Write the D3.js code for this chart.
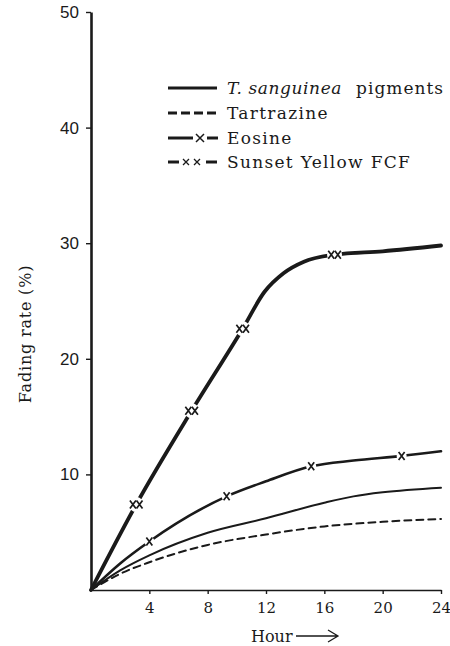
<!DOCTYPE html>
<html>
<head>
<meta charset="utf-8">
<script src="https://cdn.jsdelivr.net/npm/d3@7"></script>
<style>
  body { margin: 0; background: #fff; }
  svg text { fill: #1a1a1a; }
</style>
</head>
<body>
<div id="chart"></div>
<script>
// hours and fading rate (%)
var sunsetHours = [0, 3.1, 6.9, 10.4, 11.9, 13.2, 14.6, 16.7, 20, 24];
var sunsetRates = [0, 7.4, 15.5, 22.6, 25.8, 27.4, 28.4, 29.0, 29.3, 29.8];
var eosineHours = [0, 2, 4, 9.3, 12, 15.1, 18, 21.3, 24];
var eosineRates = [0, 2.3, 4.2, 8.1, 9.4, 10.7, 11.2, 11.6, 12.0];
var sanguineaHours = [0, 2, 4, 8, 12, 16, 18, 20, 24];
var sanguineaRates = [0, 1.7, 3.0, 4.95, 6.2, 7.55, 8.1, 8.45, 8.85];
var tartrazineHours = [0, 2, 4, 8, 12, 16, 20, 24];
var tartrazineRates = [0, 1.4, 2.4, 3.9, 4.8, 5.5, 5.9, 6.15];

// where the x marks sit on the two marked curves
var sunsetMarkHours = [3.1, 6.9, 10.4, 16.7];
var sunsetMarkRates = [7.4, 15.5, 22.6, 29.0];
var eosineMarkHours = [4, 9.3, 15.1, 21.3];
var eosineMarkRates = [4.2, 8.1, 10.7, 11.6];

var xTicks = [4, 8, 12, 16, 20, 24];
var yTicks = [10, 20, 30, 40, 50];
var legendLabels = ["T. sanguinea", "Tartrazine", "Eosine", "Sunset Yellow FCF"];

var width = 450, height = 646;
var ink = "#1a1a1a";

var svg = d3.select("#chart").append("svg")
    .attr("width", width)
    .attr("height", height);

var x = d3.scaleLinear().domain([0, 24]).range([91, 441]);
var y = d3.scaleLinear().domain([0, 50]).range([590, 12]);

// axes
var xAxis = svg.append("g")
    .attr("transform", "translate(0," + y(0) + ")")
    .call(d3.axisBottom(x).tickValues(xTicks).tickSize(4).tickSizeOuter(0).tickPadding(8));
xAxis.select(".domain").attr("stroke", ink).attr("stroke-width", 1.6);
xAxis.selectAll(".tick line").attr("stroke", ink).attr("stroke-width", 1.4);
xAxis.selectAll("text")
    .style("font-family", "'DejaVu Serif', serif")
    .style("font-size", "15px")
    .attr("fill", ink);

var yAxis = svg.append("g")
    .attr("transform", "translate(" + x(0) + ",0)")
    .call(d3.axisLeft(y).tickValues(yTicks).tickSize(5).tickSizeOuter(0).tickPadding(7));
yAxis.select(".domain").attr("stroke", ink).attr("stroke-width", 2.6);
yAxis.selectAll(".tick line").attr("stroke", ink).attr("stroke-width", 1.4);
yAxis.selectAll("text")
    .style("font-family", "'Liberation Sans', Arial, sans-serif")
    .style("font-size", "17px")
    .attr("fill", ink);

// axis titles
svg.append("text")
    .attr("transform", "translate(31,334) rotate(-90)")
    .attr("text-anchor", "middle")
    .style("font-family", "'DejaVu Serif', serif")
    .style("font-size", "16px")
    .style("letter-spacing", "0.8px")
    .text("Fading rate (%)");

svg.append("text")
    .attr("x", 251).attr("y", 642)
    .style("font-family", "'DejaVu Serif', serif")
    .style("font-size", "16px")
    .text("Hour");
svg.append("path")
    .attr("d", "M296,636 H338 M328,630 L338,636 L328,642")
    .attr("fill", "none")
    .attr("stroke", ink)
    .attr("stroke-width", 1.3);

// curves
var line = d3.line()
    .x(function(d) { return x(d[0]); })
    .y(function(d) { return y(d[1]); })
    .curve(d3.curveMonotoneX);

var series = [
    { hours: tartrazineHours, rates: tartrazineRates, width: 2, dash: "7,5" },
    { hours: sanguineaHours, rates: sanguineaRates, width: 2, dash: null },
    { hours: eosineHours, rates: eosineRates, width: 2.6, dash: null },
    { hours: sunsetHours, rates: sunsetRates, width: 3.8, dash: null }
];

series.forEach(function(s) {
    svg.append("path")
        .datum(d3.zip(s.hours, s.rates))
        .attr("d", line)
        .attr("fill", "none")
        .attr("stroke", ink)
        .attr("stroke-width", s.width)
        .attr("stroke-dasharray", s.dash)
        .attr("stroke-linecap", "round");
});

// x marks sit in a small break of the line
function drawMarks(hours, rates, count) {
    d3.zip(hours, rates).forEach(function(p) {
        var cx = x(p[0]), cy = y(p[1]);
        var g = svg.append("g").attr("transform", "translate(" + cx + "," + cy + ")");
        g.append("circle").attr("r", count === 2 ? 7.5 : 5).attr("fill", "#fff");
        var offs = count === 2 ? [-3.3, 3.3] : [0];
        offs.forEach(function(o) {
            g.append("path")
                .attr("d", "M" + (o - 3) + ",-4 L" + (o + 3) + ",4 M" + (o - 3) + ",4 L" + (o + 3) + ",-4")
                .attr("stroke", ink)
                .attr("stroke-width", 1.7)
                .attr("fill", "none");
        });
    });
}
drawMarks(eosineMarkHours, eosineMarkRates, 1);
drawMarks(sunsetMarkHours, sunsetMarkRates, 2);

// legend
var legendY = [88, 113, 138, 162];
var lg = svg.append("g");

// row 1: solid
lg.append("line").attr("x1", 168).attr("x2", 217).attr("y1", legendY[0]).attr("y2", legendY[0])
    .attr("stroke", ink).attr("stroke-width", 3);
// row 2: dashed
lg.append("line").attr("x1", 168).attr("x2", 219).attr("y1", legendY[1]).attr("y2", legendY[1])
    .attr("stroke", ink).attr("stroke-width", 3).attr("stroke-dasharray", "9,4");
// row 3: -x-
lg.append("line").attr("x1", 168).attr("x2", 193).attr("y1", legendY[2]).attr("y2", legendY[2])
    .attr("stroke", ink).attr("stroke-width", 3);
lg.append("line").attr("x1", 207).attr("x2", 218).attr("y1", legendY[2]).attr("y2", legendY[2])
    .attr("stroke", ink).attr("stroke-width", 3);
lg.append("path").attr("d", "M196," + (legendY[2] - 4) + " L204," + (legendY[2] + 4) + " M196," + (legendY[2] + 4) + " L204," + (legendY[2] - 4))
    .attr("stroke", ink).attr("stroke-width", 1.5);
// row 4: -xx-
lg.append("line").attr("x1", 168).attr("x2", 179).attr("y1", legendY[3]).attr("y2", legendY[3])
    .attr("stroke", ink).attr("stroke-width", 3);
lg.append("line").attr("x1", 206).attr("x2", 217).attr("y1", legendY[3]).attr("y2", legendY[3])
    .attr("stroke", ink).attr("stroke-width", 3);
[186, 197].forEach(function(cx) {
    lg.append("path").attr("d", "M" + (cx - 3) + "," + (legendY[3] - 3) + " L" + (cx + 3) + "," + (legendY[3] + 3) + " M" + (cx - 3) + "," + (legendY[3] + 3) + " L" + (cx + 3) + "," + (legendY[3] - 3))
        .attr("stroke", ink).attr("stroke-width", 1.3);
});

var t1 = lg.append("text").attr("x", 227).attr("y", legendY[0] + 6)
    .style("font-family", "'DejaVu Serif', serif").style("font-size", "17px");
t1.append("tspan").style("font-style", "italic").style("letter-spacing", "0.6px").text(legendLabels[0]);
t1.append("tspan").attr("dx", 14).style("letter-spacing", "1px").text("pigments");

legendLabels.slice(1).forEach(function(label, i) {
    lg.append("text")
        .attr("x", 227).attr("y", legendY[i + 1] + 6)
        .style("font-family", "'DejaVu Serif', serif")
        .style("font-size", "17px")
        .style("letter-spacing", "1.3px")
        .text(label);
});
</script>
</body>
</html>
